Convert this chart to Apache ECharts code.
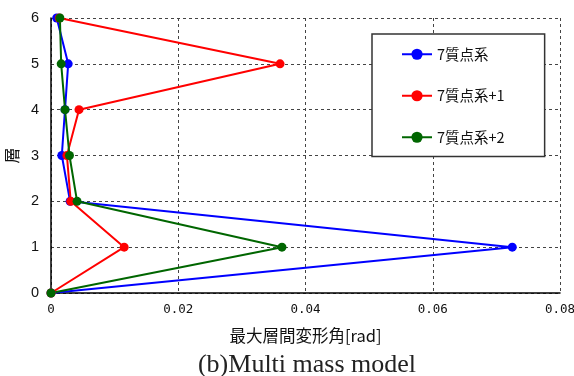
<!DOCTYPE html>
<html><head><meta charset="utf-8">
<script src="https://cdn.jsdelivr.net/npm/echarts@6/dist/echarts.min.js"></script>
<style>html,body{margin:0;padding:0;background:#fff}#c{width:574px;height:376px}</style>
</head><body><div id="c"></div>
<script>
const layers = [0, 1, 2, 3, 4, 5, 6];
const seriesNames = ['7質点系', '7質点系+1', '7質点系+2'];
const drift7 = [0, 0.0725, 0.0030, 0.0017, 0.0022, 0.0027, 0.0009];
const drift7p1 = [0, 0.0115, 0.0031, 0.0025, 0.0044, 0.0360, 0.0013];
const drift7p2 = [0, 0.0363, 0.0041, 0.0029, 0.0022, 0.0016, 0.0014];
const xTicks = [0, 0.02, 0.04, 0.06, 0.08];
const colors = ['#0000ff', '#ff0000', '#006600'];

const pairs = d => d.map((v, i) => [v, layers[i]]);
const chart = echarts.init(document.getElementById('c'));
const gridLine = { show: true, lineStyle: { color: '#444', type: [3, 3], width: 1 } };
chart.setOption({
  animation: false,
  grid: { left: 51, right: 14, top: 18, bottom: 83, containLabel: false, outerBoundsMode: 'none' },
  title: {
    text: '(b)Multi mass model', left: 302, textAlign: 'center', top: 346,
    textStyle: { fontFamily: 'Liberation Serif', fontSize: 26, fontWeight: 'normal', color: '#222', lineHeight: 28 }
  },
  legend: {
    orient: 'vertical', left: 372, top: 34,
    padding: [13, 40, 12, 29], itemGap: 27, itemWidth: 30, itemHeight: 14,
    borderColor: '#333', borderWidth: 1.5, backgroundColor: '#fff',
    textStyle: { fontFamily: 'Noto Sans CJK JP', fontSize: 14.5, color: '#111' },
    data: seriesNames
  },
  xAxis: {
    type: 'value', min: 0, max: 0.08, interval: 0.02,
    name: '最大層間変形角[rad]', nameLocation: 'middle', nameGap: 34,
    nameTextStyle: { fontFamily: 'Noto Sans CJK JP', fontSize: 16.5, color: '#111' },
    axisLine: { show: true, lineStyle: { color: '#000', width: 1.5 } },
    axisTick: { show: false },
    axisLabel: { margin: 10, fontFamily: 'DejaVu Sans Mono', fontSize: 12.5, color: '#111',
      formatter: v => { const t = xTicks.find(k => Math.abs(k - v) < 1e-9); return t === 0 ? '0' : t.toFixed(2); } },
    splitLine: gridLine
  },
  yAxis: {
    type: 'value', min: 0, max: 6, interval: 1,
    name: '層', nameLocation: 'middle', nameGap: 25, nameRotate: 90,
    nameTextStyle: { fontFamily: 'Noto Sans CJK JP', fontSize: 16, color: '#111' },
    axisLine: { show: true, lineStyle: { color: '#000', width: 1.5 } },
    axisTick: { show: false },
    axisLabel: { margin: 12, fontFamily: 'Liberation Sans', fontSize: 14.5, color: '#111' },
    splitLine: gridLine
  },
  series: [drift7, drift7p1, drift7p2].map((d, i) => ({
    name: seriesNames[i], type: 'line', data: pairs(d),
    symbol: 'circle', symbolSize: 9, clip: false,
    lineStyle: { color: colors[i], width: 2 },
    itemStyle: { color: colors[i] }
  }))
});
</script></body></html>
